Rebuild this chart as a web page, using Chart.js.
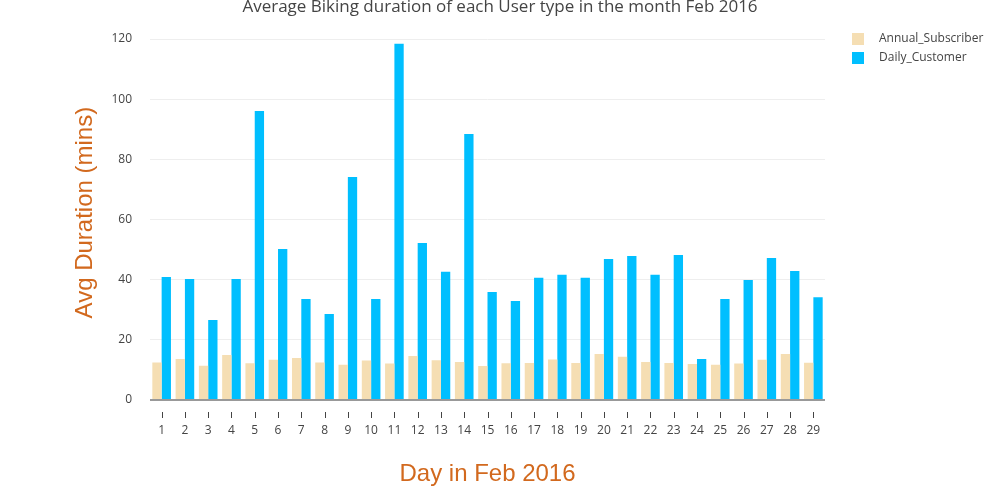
<!DOCTYPE html>
<html>
<head>
<meta charset="utf-8">
<script src="https://cdn.jsdelivr.net/npm/chart.js@4/dist/chart.umd.min.js"></script>
<style>
  html, body { margin: 0; padding: 0; background: #fff; }
  #wrap { width: 1000px; height: 500px; }
</style>
</head>
<body>
<div id="wrap"><canvas id="graphCanvas" width="1000" height="500"></canvas></div>
<script>
// 데이터
var days = ['1','2','3','4','5','6','7','8','9','10','11','12','13','14','15',
            '16','17','18','19','20','21','22','23','24','25','26','27','28','29'];
var annualSubscriber = [12.5, 13.6, 11.4, 15.0, 12.2, 13.4, 14.0, 12.5, 11.7, 13.1,
                        12.1, 14.6, 13.2, 12.6, 11.3, 12.2, 12.3, 13.5, 12.3, 15.3,
                        14.4, 12.6, 12.3, 12.0, 11.7, 12.1, 13.4, 15.3, 12.4];
var dailyCustomer = [40.9, 40.2, 26.6, 40.2, 96.1, 50.2, 33.6, 28.6, 74.1, 33.6,
                     118.4, 52.2, 42.6, 88.4, 35.9, 32.9, 40.6, 41.6, 40.6, 46.9,
                     47.9, 41.6, 48.2, 13.6, 33.6, 39.9, 47.2, 42.9, 34.2];
var yTicks = [0, 20, 40, 60, 80, 100, 120];

var chartTitle = 'Average Biking duration of each User type in the month Feb 2016';
var xTitle = 'Day in Feb 2016';
var yTitle = 'Avg Duration (mins)';

// 제목, 범례, 눈금 표시 그리기
var decorPlugin = {
    id: 'decor',
    afterDraw: function(chart) {
        var ctx = chart.ctx;
        var area = chart.chartArea;
        var xs = chart.scales.x;
        ctx.save();

        // x축 눈금 표시
        ctx.strokeStyle = '#444';
        ctx.lineWidth = 1;
        for (var i = 0; i < days.length; i++) {
            var px = Math.round(xs.getPixelForTick(i)) + 0.5;
            ctx.beginPath();
            ctx.moveTo(px, area.bottom + 12);
            ctx.lineTo(px, area.bottom + 18);
            ctx.stroke();
        }

        // 제목
        ctx.fillStyle = '#444';
        ctx.font = '17px "Open Sans", sans-serif';
        ctx.textAlign = 'center';
        ctx.textBaseline = 'middle';
        ctx.fillText(chartTitle, 500, 7);

        // 축 제목
        ctx.fillStyle = '#D2691E';
        ctx.font = '24px "Liberation Sans", Arial, sans-serif';
        ctx.fillText(xTitle, (area.left + area.right) / 2, 474);
        ctx.save();
        ctx.translate(85, (area.top + area.bottom) / 2 + 0);
        ctx.rotate(-Math.PI / 2);
        ctx.fillText(yTitle, 0, 0);
        ctx.restore();

        // 범례
        ctx.font = '12px "Open Sans", sans-serif';
        ctx.textAlign = 'left';
        chart.data.datasets.forEach(function(ds, k) {
            var y = 39 + k * 19;
            ctx.fillStyle = ds.backgroundColor;
            ctx.fillRect(852, y - 6, 12, 12);
            ctx.fillStyle = '#444';
            ctx.fillText(ds.label, 879, y);
        });
        ctx.restore();
    }
};

var ctx = document.getElementById('graphCanvas').getContext('2d');
new Chart(ctx, {
    type: 'bar',
    data: {
        labels: days,
        datasets: [{
            label: 'Annual_Subscriber',
            data: annualSubscriber,
            backgroundColor: '#F5DEB3',
            categoryPercentage: 0.8,
            barPercentage: 1.0
        }, {
            label: 'Daily_Customer',
            data: dailyCustomer,
            backgroundColor: '#00BFFF',
            categoryPercentage: 0.8,
            barPercentage: 1.0
        }]
    },
    options: {
        responsive: false,
        animation: false,
        layout: { padding: { left: 0, right: 175, top: 25, bottom: 0 } },
        plugins: {
            legend: { display: false },
            title: { display: false },
            tooltip: { enabled: false }
        },
        scales: {
            x: {
                grid: { display: false },
                border: { display: false },
                ticks: {
                    color: '#444',
                    font: { family: 'Open Sans', size: 12 },
                    padding: 15,
                    maxRotation: 0,
                    autoSkip: false
                },
                afterFit: function(scale) { scale.height = 100; }
            },
            y: {
                min: 0,
                max: 124.6,
                border: { display: false },
                grid: {
                    drawTicks: false,
                    color: function(c) { return c.tick && c.tick.value === 0 ? '#999' : '#eee'; },
                    lineWidth: function(c) { return c.tick && c.tick.value === 0 ? 2 : 1; }
                },
                ticks: {
                    color: '#444',
                    font: { family: 'Open Sans', size: 12 },
                    padding: 18
                },
                afterBuildTicks: function(scale) {
                    scale.ticks = yTicks.map(function(v) { return { value: v }; });
                },
                afterFit: function(scale) { scale.width = 150; }
            }
        }
    },
    plugins: [decorPlugin]
});
</script>
</body>
</html>
